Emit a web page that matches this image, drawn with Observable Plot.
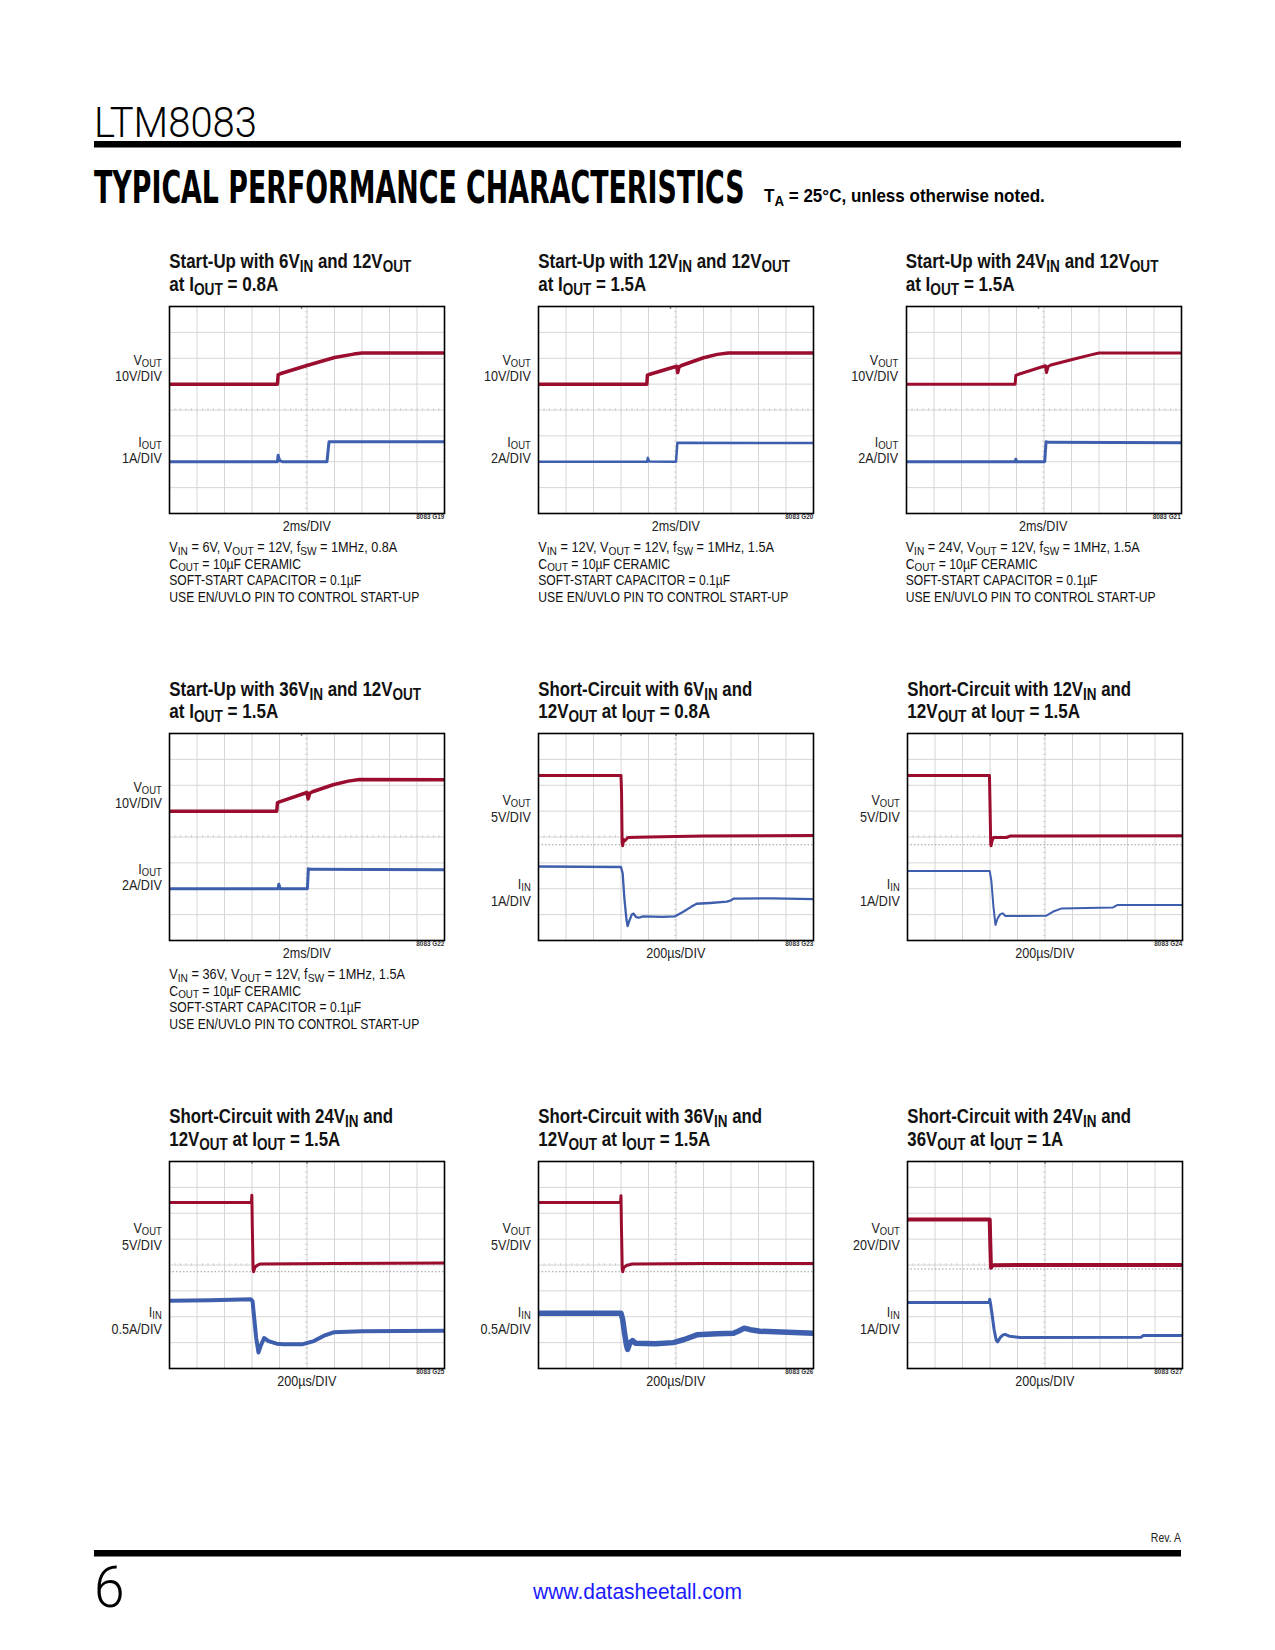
<!DOCTYPE html>
<html><head><meta charset="utf-8">
<script src="https://cdn.jsdelivr.net/npm/d3@7"></script>
<script src="https://cdn.jsdelivr.net/npm/@observablehq/plot@0.6"></script>
<style>
html,body{margin:0;padding:0;background:#fff;}
#page{position:relative;width:1275px;height:1650px;overflow:hidden;background:#fff;}
#page svg{position:absolute;}
text{white-space:pre;}
</style></head><body><div id="page"></div>
<script>
// ---------------- data (time in ms for start-up, µs for short-circuit; V and A) ----------------
const g19Vout = [[0,0],[7.85,0],[7.9,3.6],[8.1,4.1],[10,7.2],[12,10.3],[13.4,11.6],[14,12],[20,12]];
const g19Iout = [[0,0],[7.85,0],[7.9,0.25],[8.0,0.05],[8.2,0],[11.45,0],[11.6,0.77],[20,0.77]];

const g20Vout = [[0,0],[7.88,0],[7.92,3.5],[8.1,3.8],[10.05,6.9],[10.12,4.5],[10.22,6.6],[10.4,7.2],[12,10.2],[13,11.5],[13.8,12],[20,12]];
const g20Iout = [[0,0],[7.9,0],[7.95,0.3],[8.05,0.02],[10.0,0],[10.1,1.47],[20,1.45]];

const g21Vout = [[0,0],[7.9,0],[7.95,3.4],[8.1,3.7],[10.1,7.1],[10.18,4.5],[10.3,6.8],[10.5,7.4],[12.2,9.7],[13.4,11.3],[14,12],[20,12]];
const g21Iout = [[0,0],[7.92,0],[7.95,0.2],[8.0,0],[10.05,0],[10.15,1.55],[10.3,1.5],[20,1.46]];

const g22Vout = [[0,0],[7.8,0],[7.85,3.2],[8.0,3.6],[10.0,7.2],[10.08,4.7],[10.2,6.9],[10.4,7.5],[11.9,10.2],[13,11.6],[13.8,12.2],[20,12.1]];
const g22Iout = [[0,0],[7.9,0],[7.95,0.35],[8.05,0],[10.03,0],[10.1,1.55],[10.25,1.5],[20,1.47]];

const g23Vout = [[0,13.4],[600,13.4],[604,10],[608,0.5],[612,-0.2],[620,1.0],[630,0.8],[650,1.4],[800,1.5],[1200,1.7],[2000,1.8]];
const g23Iin = [[0,2.86],[600,2.84],[612,2.6],[625,1.6],[640,0.8],[648,0.56],[660,0.75],[678,1.0],[692,1.04],[710,0.9],[730,0.88],[760,0.93],[900,0.91],[990,0.93],[1050,1.1],[1110,1.3],[1150,1.42],[1250,1.45],[1370,1.5],[1400,1.55],[1420,1.62],[1700,1.63],[2000,1.6]];

const g24Vout = [[0,13.4],[596,13.4],[600,8],[605,0.3],[608,-0.2],[615,0.8],[625,1.4],[720,1.4],[750,1.7],[2000,1.75]];
const g24Iin = [[0,2.69],[598,2.69],[610,2.3],[625,1.3],[640,0.6],[655,0.85],[675,1.02],[692,1.05],[712,0.95],[800,0.95],[1010,0.96],[1060,1.12],[1122,1.24],[1300,1.26],[1495,1.28],[1525,1.37],[2000,1.37]];

const g25Vout = [[0,13.4],[596,13.4],[599,14.8],[602,9],[608,0.5],[612,0],[620,0.8],[635,1.2],[660,1.5],[1200,1.6],[2000,1.7]];
const g25Iin = [[0,1.31],[300,1.32],[590,1.34],[604,1.3],[615,1.0],[630,0.6],[647,0.31],[665,0.45],[688,0.59],[720,0.53],[780,0.48],[830,0.47],[970,0.47],[1050,0.53],[1120,0.63],[1193,0.7],[1400,0.72],[2000,0.73]];

const g26Vout = [[0,13.4],[597,13.4],[600,14.7],[603,9],[609,0.5],[613,0],[620,0.8],[640,1.2],[680,1.5],[1200,1.6],[2000,1.6]];
const g26Iin = [[0,1.07],[600,1.07],[612,0.95],[625,0.7],[640,0.45],[648,0.37],[665,0.5],[684,0.54],[705,0.49],[850,0.48],[980,0.5],[1060,0.56],[1152,0.65],[1300,0.67],[1418,0.68],[1460,0.73],[1496,0.78],[1540,0.75],[1612,0.72],[2000,0.68]];

const g27Vout = [[0,38.2],[598,38.2],[602,20],[607,1.0],[612,2.0],[625,3.0],[2000,3.1]];
const g27Iin = [[0,2.55],[594,2.55],[598,2.68],[604,2.5],[615,2.1],[630,1.5],[645,1.1],[655,1.03],[675,1.2],[695,1.3],[710,1.32],[740,1.25],[817,1.2],[1700,1.21],[1716,1.28],[2000,1.28]];

const startupNotes = {
  G19: ["V_{IN} = 6V, V_{OUT} = 12V, f_{SW} = 1MHz, 0.8A"],
  G20: ["V_{IN} = 12V, V_{OUT} = 12V, f_{SW} = 1MHz, 1.5A"],
  G21: ["V_{IN} = 24V, V_{OUT} = 12V, f_{SW} = 1MHz, 1.5A"],
  G22: ["V_{IN} = 36V, V_{OUT} = 12V, f_{SW} = 1MHz, 1.5A"]
};
const commonNotes = ["C_{OUT} = 10µF CERAMIC", "SOFT-START CAPACITOR = 0.1µF", "USE EN/UVLO PIN TO CONTROL START-UP"];

// ---------------- styling / layout ----------------
const RED = "#9b0d2f", BLUE = "#3e5eae", GRID = "#d6d6d6";
const FONT = "'Liberation Sans',Arial,sans-serif";
const NS = "http://www.w3.org/2000/svg";
const FW = 275, FH = 207;
const ROW_TOP = [306, 733.3, 1161];
const COL_LEFT = [[169.3, 538.3, 905.7], [169.3, 538.3, 907.3], [169.3, 538.3, 907.3]];

const charts = [
  {id:"G19", row:0, col:0, kind:"su", title:["Start-Up with 6V_{IN} and 12V_{OUT}", "at I_{OUT} = 0.8A"], tw:[242,109],
   ch:[{lab:"V_{OUT}", sc:"10V/DIV", per:10, zero:5, data:g19Vout, color:RED, sw:3.5},
       {lab:"I_{OUT}", sc:"1A/DIV", per:1, zero:2, data:g19Iout, color:BLUE, sw:3}], nw:[228,132,192,250]},
  {id:"G20", row:0, col:1, kind:"su", title:["Start-Up with 12V_{IN} and 12V_{OUT}", "at I_{OUT} = 1.5A"], tw:[252,108],
   ch:[{lab:"V_{OUT}", sc:"10V/DIV", per:10, zero:5, data:g20Vout, color:RED, sw:3.5},
       {lab:"I_{OUT}", sc:"2A/DIV", per:2, zero:2, data:g20Iout, color:BLUE, sw:2.5}], nw:[236,132,192,250]},
  {id:"G21", row:0, col:2, kind:"su", title:["Start-Up with 24V_{IN} and 12V_{OUT}", "at I_{OUT} = 1.5A"], tw:[253,109],
   ch:[{lab:"V_{OUT}", sc:"10V/DIV", per:10, zero:5, data:g21Vout, color:RED, sw:3},
       {lab:"I_{OUT}", sc:"2A/DIV", per:2, zero:2, data:g21Iout, color:BLUE, sw:3}], nw:[234,132,192,250]},
  {id:"G22", row:1, col:0, kind:"su", title:["Start-Up with 36V_{IN} and 12V_{OUT}", "at I_{OUT} = 1.5A"], tw:[252,109],
   ch:[{lab:"V_{OUT}", sc:"10V/DIV", per:10, zero:5, data:g22Vout, color:RED, sw:3.5},
       {lab:"I_{OUT}", sc:"2A/DIV", per:2, zero:2, data:g22Iout, color:BLUE, sw:3}], nw:[236,132,192,250]},
  {id:"G23", row:1, col:1, kind:"sc", title:["Short-Circuit with 6V_{IN} and", "12V_{OUT} at I_{OUT} = 0.8A"], tw:[214,172],
   ch:[{lab:"V_{OUT}", sc:"5V/DIV", per:5, zero:3.7, data:g23Vout, color:RED, sw:3},
       {lab:"I_{IN}", sc:"1A/DIV", per:1, zero:0, data:g23Iin, color:BLUE, sw:2.3}]},
  {id:"G24", row:1, col:2, kind:"sc", title:["Short-Circuit with 12V_{IN} and", "12V_{OUT} at I_{OUT} = 1.5A"], tw:[224,173],
   ch:[{lab:"V_{OUT}", sc:"5V/DIV", per:5, zero:3.7, data:g24Vout, color:RED, sw:3},
       {lab:"I_{IN}", sc:"1A/DIV", per:1, zero:0, data:g24Iin, color:BLUE, sw:2}]},
  {id:"G25", row:2, col:0, kind:"sc", title:["Short-Circuit with 24V_{IN} and", "12V_{OUT} at I_{OUT} = 1.5A"], tw:[224,171],
   ch:[{lab:"V_{OUT}", sc:"5V/DIV", per:5, zero:3.74, data:g25Vout, color:RED, sw:3},
       {lab:"I_{IN}", sc:"0.5A/DIV", per:0.5, zero:0, data:g25Iin, color:BLUE, sw:4}]},
  {id:"G26", row:2, col:1, kind:"sc", title:["Short-Circuit with 36V_{IN} and", "12V_{OUT} at I_{OUT} = 1.5A"], tw:[224,172],
   ch:[{lab:"V_{OUT}", sc:"5V/DIV", per:5, zero:3.74, data:g26Vout, color:RED, sw:3},
       {lab:"I_{IN}", sc:"0.5A/DIV", per:0.5, zero:0, data:g26Iin, color:BLUE, sw:5.5}]},
  {id:"G27", row:2, col:2, kind:"sc", title:["Short-Circuit with 24V_{IN} and", "36V_{OUT} at I_{OUT} = 1A"], tw:[224,156],
   ch:[{lab:"V_{OUT}", sc:"20V/DIV", per:20, zero:3.845, data:g27Vout, color:RED, sw:4},
       {lab:"I_{IN}", sc:"1A/DIV", per:1, zero:0, data:g27Iin, color:BLUE, sw:3}]}
];

const page = document.getElementById("page");
const overlay = document.createElementNS(NS, "svg");
overlay.setAttribute("width", 1275); overlay.setAttribute("height", 1650);
overlay.style.left = "0px"; overlay.style.top = "0px";
page.appendChild(overlay);

// text with subscripts written as _{...}; horizontally condensed by a transform
function rich(str, x, y, o) {
  const size = o.size || 14, anchor = o.anchor || "start";
  const t = document.createElementNS(NS, "text");
  t.setAttribute("x", 0); t.setAttribute("y", 0);
  t.setAttribute("font-family", o.family || FONT);
  t.setAttribute("font-size", size);
  t.setAttribute("font-weight", o.weight || "normal");
  t.setAttribute("fill", o.fill || "#111");
  t.setAttribute("text-anchor", anchor);
  const subSize = size * (o.subScale || 0.78), drop = size * (o.drop || 0.2);
  const parts = str.split(/(_\{[^}]*\})/).filter(s => s !== "");
  let shifted = 0;
  for (const p of parts) {
    const ts = document.createElementNS(NS, "tspan");
    if (p.startsWith("_{")) {
      ts.textContent = p.slice(2, -1);
      ts.setAttribute("font-size", subSize);
      if (!shifted) { ts.setAttribute("dy", drop); shifted = drop; }
    } else {
      ts.textContent = p;
      if (shifted) { ts.setAttribute("dy", -shifted); shifted = 0; }
    }
    t.appendChild(ts);
  }
  overlay.appendChild(t);
  let sx = o.sx || 0.84;
  if (o.width) {
    const w = t.getComputedTextLength();
    if (w > 0) sx = o.width / w;
  }
  t.setAttribute("transform", `translate(${x},${y}) scale(${sx},1)`);
  return t;
}
function rect(x, y, w, h) {
  const r = document.createElementNS(NS, "rect");
  r.setAttribute("x", x); r.setAttribute("y", y); r.setAttribute("width", w); r.setAttribute("height", h);
  r.setAttribute("fill", "#000");
  overlay.appendChild(r);
}

// ---------------- page header / footer ----------------
rich("LTM8083", 94, 137, {size: 43, width: 163, fill: "#000", family: "Roboto,'Liberation Sans',sans-serif", weight: 300});
rect(94, 141, 1087, 6.5);
rich("TYPICAL PERFORMANCE CHARACTERISTICS", 94, 203, {size: 44, weight: "bold", width: 651, fill: "#000", family: "'DejaVu Sans Condensed','DejaVu Sans',sans-serif"});
rich("T_{A} = 25°C, unless otherwise noted.", 764, 202, {size: 19, weight: "bold", width: 281, fill: "#000"});
rich("Rev. A", 1181, 1542, {size: 12.5, anchor: "end", fill: "#222"});
rect(94, 1550, 1087, 6.5);
rich("6", 94, 1607, {size: 58, fill: "#000", family: "Roboto,'Liberation Sans',sans-serif", weight: 300, sx: 0.95});
rich("www.datasheetall.com", 637.5, 1599, {size: 22, anchor: "middle", fill: "#1a1aff", width: 209});

// ---------------- charts ----------------
const M = 3;
for (const c of charts) {
  const left = COL_LEFT[c.row][c.col], top = ROW_TOP[c.row];
  const xmax = c.kind === "su" ? 20 : 2000;
  const xt = d3.range(0, 11).map(i => i * xmax / 10);
  const yt = d3.range(0, 9);
  const minorX = d3.range(0, 51).map(i => i * xmax / 50);
  const minorY = d3.range(0, 41).map(i => i / 5);
  const trig = c.kind === "su" ? [xmax * 0.48] : [xmax * 0.3, xmax * 0.5];
  const marks = [
    Plot.ruleX(xt, {stroke: GRID, strokeWidth: 1}),
    Plot.ruleY(yt, {stroke: GRID, strokeWidth: 1}),
    Plot.ruleX(minorX, {y1: () => 3.95, y2: () => 4.05, stroke: "#d0d0d0", strokeWidth: 1}),
    Plot.ruleY(minorY, {x1: () => xmax * 0.495, x2: () => xmax * 0.505, stroke: "#d0d0d0", strokeWidth: 1})
  ];
  if (c.kind === "sc") marks.push(Plot.ruleY([c.ch[0].zero], {stroke: "#9c9c9c", strokeWidth: 1, strokeDasharray: "1.5,2"}));
  marks.push(Plot.ruleX(trig, {y1: () => 8, y2: () => 7.88, stroke: "#888", strokeWidth: 1.5}));
  for (const ch of c.ch) {
    marks.push(Plot.line(ch.data, {x: d => d[0], y: d => ch.zero + d[1] / ch.per, stroke: ch.color, strokeWidth: ch.sw, strokeLinejoin: "round", strokeLinecap: "butt"}));
  }
  marks.push(Plot.frame({stroke: "#000", strokeWidth: 1.6}));
  const svg = Plot.plot({
    width: FW + 2 * M, height: FH + 2 * M, margin: M,
    x: {domain: [0, xmax], axis: null},
    y: {domain: [0, 8], axis: null},
    style: {background: "transparent", overflow: "visible"},
    marks
  });
  svg.style.left = (left - M) + "px";
  svg.style.top = (top - M) + "px";
  page.appendChild(svg);

  // titles
  rich(c.title[0], left, top - 37.7, {size: 20, weight: "bold", width: c.tw[0], fill: "#111", subScale: 0.8, drop: 0.2});
  rich(c.title[1], left, top - 15.5, {size: 20, weight: "bold", width: c.tw[1], fill: "#111", subScale: 0.8, drop: 0.2});
  // channel labels
  const lb = c.kind === "su" ? [59, 75, 141, 157] : [72, 88.5, 156, 172.5];
  rich(c.ch[0].lab, left - 7.5, top + lb[0], {size: 15, anchor: "end", fill: "#222", subScale: 0.75, drop: 0.13});
  rich(c.ch[0].sc, left - 7.5, top + lb[1], {size: 15, anchor: "end", fill: "#222"});
  rich(c.ch[1].lab, left - 7.5, top + lb[2], {size: 15, anchor: "end", fill: "#222", subScale: 0.75, drop: 0.13});
  rich(c.ch[1].sc, left - 7.5, top + lb[3], {size: 15, anchor: "end", fill: "#222"});
  // time base + figure code
  rich(c.kind === "su" ? "2ms/DIV" : "200µs/DIV", left + FW / 2, top + FH + 18, {size: 15, anchor: "middle", fill: "#222"});
  rich("8083 " + c.id, left + FW, top + FH + 6, {size: 7.5, anchor: "end", weight: "bold", fill: "#333", sx: 0.85});
  // notes
  if (c.kind === "su") {
    const lines = startupNotes[c.id].concat(commonNotes);
    lines.forEach((s, i) => rich(s, left, top + FH + 39 + 16.5 * i, {size: 14, fill: "#111", width: c.nw[i], subScale: 0.8, drop: 0.18}));
  }
}
</script></body></html>
